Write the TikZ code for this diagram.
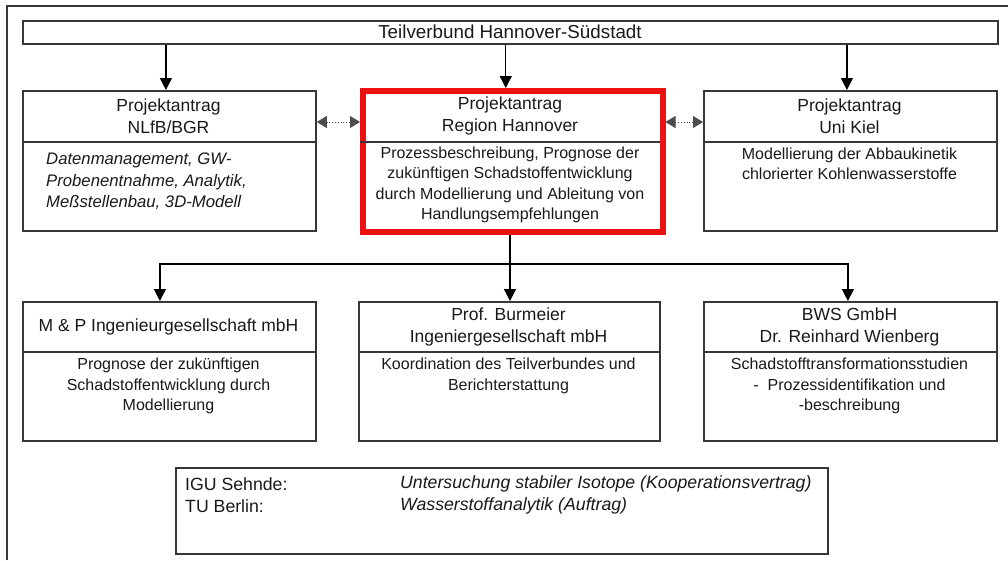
\documentclass[tikz,border=0pt]{standalone}
\usepackage{fontspec}
\setmainfont{Liberation Sans}
\usetikzlibrary{arrows.meta}
\definecolor{boxgray}{RGB}{55,55,55}
\definecolor{redc}{RGB}{236,18,18}
\definecolor{txt}{RGB}{25,25,25}
\begin{document}
\begin{tikzpicture}[x=1pt,y=-1pt,
  box/.style={draw=boxgray, line width=1.8pt, rectangle, inner sep=0pt, anchor=north west},
  redbox/.style={draw=redc, line width=5.5pt, rectangle, inner sep=0pt, anchor=north west},
  divider/.style={draw=boxgray, line width=1.3pt},
  ttl/.style={font=\fontsize{18.8}{22}\selectfont, text=txt, inner sep=0pt},
  hd/.style={font=\fontsize{17.5}{22}\selectfont, text=txt, align=center, inner sep=0pt},
  bd/.style={font=\fontsize{16}{20.5}\selectfont, text=txt, align=center, inner sep=0pt},
  bdit/.style={font=\fontsize{16.7}{21.5}\selectfont\itshape, text=txt, align=left, inner sep=0pt, anchor=west},
  nar/.style={font=\fontsize{17.7}{22}\selectfont, text=txt, align=left, inner sep=0pt, anchor=west},
  narit/.style={nar, font=\fontsize{17.7}{22}\selectfont\itshape},
  arr/.style={-{Triangle[length=12pt,width=12pt]}, line width=1.2pt, draw=black},
  conn/.style={line width=1.2pt, draw=black},
  dotarr/.style={{Triangle[length=10pt,width=12pt]}-{Triangle[length=10pt,width=12pt]}, line width=0.8pt, dotted, draw=black!70}
]
\useasboundingbox (0,0) rectangle (1008,560);
% outer frame (only left and top visible)
\draw[line width=1.3pt, draw=boxgray] (7,560) -- (7,6) -- (1008,6);

% top box
\node[box, minimum width=975pt, minimum height=23pt] (top) at (22,20) {};
\node[ttl] (toptxt) at (510,32) {Teilverbund Hannover-Südstadt};

% row 1
\node[box, minimum width=293pt, minimum height=140pt] (NL) at (22,90) {};
\node[redbox, minimum width=300pt, minimum height=141pt] (RH) at (360,88) {};
\node[box, minimum width=293pt, minimum height=140pt] (UK) at (703,90) {};
\draw[divider] (NL.west |- 0,142) -- (NL.east |- 0,142);
\draw[divider] (360,142) -- (660,142);
\draw[divider] (UK.west |- 0,142) -- (UK.east |- 0,142);

\node[hd] (NLh) at (168.5,116) {Projektantrag\\NLfB/BGR};
\node[hd] (RHh) at (510,116) {Projektantrag\\Region Hannover};
\node[hd] (UKh) at (849.5,116) {Projektantrag\\Uni Kiel};

\node[bdit] (NLb) at (46,181.5) {Datenmanagement, GW-\\Probenentnahme, Analytik,\\Meßstellenbau, 3D-Modell};
\node[bd] (RHb) at (510,185) {Prozessbeschreibung, Prognose der\\zukünftigen Schadstoffentwicklung\\durch Modellierung und Ableitung von\\Handlungsempfehlungen};
\node[bd] (UKb) at (849.5,164) {Modellierung der Abbaukinetik\\chlorierter Kohlenwasserstoffe};

% row 2
\node[box, minimum width=293pt, minimum height=139pt] (MP) at (22,301) {};
\node[box, minimum width=301pt, minimum height=139pt] (PB) at (358,301) {};
\node[box, minimum width=293pt, minimum height=139pt] (BWS) at (703,301) {};
\draw[divider] (MP.west |- 0,352) -- (MP.east |- 0,352);
\draw[divider] (PB.west |- 0,352) -- (PB.east |- 0,352);
\draw[divider] (BWS.west |- 0,352) -- (BWS.east |- 0,352);

\node[hd] (MPh) at (168.5,327) {M \& P Ingenieurgesellschaft mbH};
\node[hd] (PBh) at (508.5,326.5) {Prof. Burmeier\\Ingeniergesellschaft mbH};
\node[hd] (BWSh) at (849.5,326.5) {BWS GmbH\\Dr. Reinhard Wienberg};

\node[bd] (MPb) at (168.5,386) {Prognose der zukünftigen\\Schadstoffentwicklung durch\\Modellierung};
\node[bd] (PBb) at (508.5,376) {Koordination des Teilverbundes und\\Berichterstattung};
\node[bd] (BWSb) at (849.5,386) {Schadstofftransformationsstudien\\-\ \ Prozessidentifikation und\\-beschreibung};

% bottom box
\node[box, minimum width=652pt, minimum height=86pt] (BOT) at (175,467) {};
\node[nar] (igu) at (185,484) {IGU Sehnde:};
\node[nar] (tub) at (185,506) {TU Berlin:};
\node[narit] (igut) at (400,484) {Untersuchung stabiler Isotope (Kooperationsvertrag)};
\node[narit] (tubt) at (400,506) {Wasserstoffanalytik (Auftrag)};

% arrows from top box
\coordinate (a1) at ([xshift=-3.5pt]NL.north);
\coordinate (a2) at ([xshift=-7pt]RH.north);
\coordinate (a3) at ([xshift=-3.5pt]UK.north);
\draw[arr] (top.south -| a1) -- (a1);
\draw[arr] (top.south -| a2) -- (a2);
\draw[arr] (top.south -| a3) -- (a3);

% double arrows
\draw[dotarr] (NL.east |- 0,122) -- (RH.west |- 0,122);
\draw[dotarr] (RH.east |- 0,122) -- (UK.west |- 0,122);

% distribution to row 2
\coordinate (hub) at (510,264);
\coordinate (b1) at ([xshift=-9.5pt]MP.north);
\coordinate (b3) at ([xshift=-2.5pt]BWS.north);
\draw[conn] (RH.south -| hub) -- (hub);
\draw[arr] (hub) -- (PB.north -| hub);
\draw[arr] (hub) -| (b1);
\draw[arr] (hub) -| (b3);
\end{tikzpicture}
\end{document}
